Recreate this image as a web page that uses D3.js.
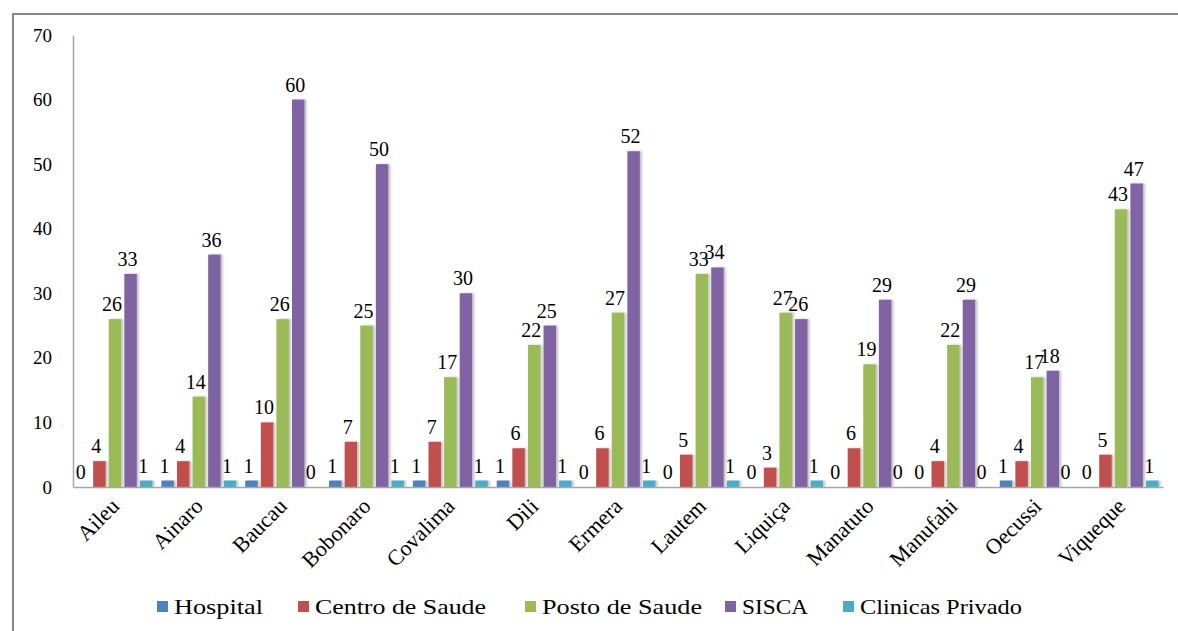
<!DOCTYPE html>
<html>
<head>
<meta charset="utf-8">
<script src="https://cdn.jsdelivr.net/npm/d3@7"></script>
<style>
  body { margin: 0; background: #fff; }
  svg { display: block; }
</style>
</head>
<body>
<svg id="chart"></svg>
<script>
var districts = ["Aileu","Ainaro","Baucau","Bobonaro","Covalima","Dili","Ermera","Lautem","Liquiça","Manatuto","Manufahi","Oecussi","Viqueque"];
var seriesNames = ["Hospital","Centro de Saude","Posto de Saude","SISCA","Clinicas Privado"];
var hospital  = [0,1,1,1,1,1,0,0,0,0,0,1,0];
var centro    = [4,4,10,7,7,6,6,5,3,6,4,4,5];
var posto     = [26,14,26,25,17,22,27,33,27,19,22,17,43];
var sisca     = [33,36,60,50,30,25,52,34,26,29,29,18,47];
var clinicas  = [1,1,0,1,1,1,1,1,1,0,0,0,1];
var yTicks = [0,10,20,30,40,50,60,70];
var colors = ["#4F81BD","#C0504D","#9BBB59","#8064A2","#4BACC6"];

var serif = "Liberation Serif";
var W = 1178, H = 631;
var svg = d3.select("#chart").attr("width", W).attr("height", H);

var defs = svg.append("defs");
var f = defs.append("filter").attr("id","shadow").attr("x","-20%").attr("y","-5%").attr("width","160%").attr("height","110%");
f.append("feDropShadow").attr("dx",2).attr("dy",0).attr("stdDeviation",1.2)
  .attr("flood-color","#000").attr("flood-opacity",0.25);

// outer border
svg.append("rect").attr("x",13).attr("y",14).attr("width",W).attr("height",H)
  .attr("fill","none").attr("stroke","#878787").attr("stroke-width",2);

var mLeft = 73, mRight = 1163, mTop = 35, mBottom = 487;

var x0 = d3.scaleBand().domain(districts).range([mLeft, mRight]).paddingInner(0.107).paddingOuter(0.054);
var x1 = d3.scaleBand().domain(seriesNames).range([0, x0.bandwidth()]).paddingInner(0.2);
var y = d3.scaleLinear().domain([0,70]).range([mBottom, mTop]);

var data = districts.map(function(d, i){
  return { name: d, values: [hospital[i], centro[i], posto[i], sisca[i], clinicas[i]] };
});

// y axis
var yAxis = svg.append("g").attr("transform","translate("+mLeft+",0)")
  .call(d3.axisLeft(y).tickValues(yTicks).tickSize(0).tickPadding(21));
yAxis.attr("font-family", serif);
yAxis.select(".domain").attr("stroke","#a6a6a6").attr("stroke-width",1.5);
yAxis.selectAll("text").attr("font-family", serif).attr("font-size",19).attr("fill","#000");

var groups = svg.selectAll(".grp").data(data).enter().append("g")
  .attr("transform", function(d){ return "translate("+x0(d.name)+",0)"; });

function items(d){
  return d.values.map(function(v, k){ return {s: seriesNames[k], v: v, k: k}; });
}

groups.selectAll("rect").data(function(d){ return items(d).filter(function(e){ return e.v > 0; }); })
  .enter().append("rect")
  .attr("x", function(d){ return x1(d.s); })
  .attr("y", function(d){ return y(d.v); })
  .attr("width", x1.bandwidth())
  .attr("height", function(d){ return y(0) - y(d.v); })
  .attr("fill", function(d){ return colors[d.k]; })
  .attr("filter","url(#shadow)");

groups.selectAll("text").data(items).enter().append("text")
  .attr("x", function(d){ return x1(d.s) + x1.bandwidth()/2 - 3; })
  .attr("y", function(d){ return y(d.v) - 8; })
  .attr("text-anchor","middle")
  .attr("font-family", serif)
  .attr("font-size",20)
  .attr("fill","#000")
  .text(function(d){ return d.v; });

// x axis
var xAxis = svg.append("g").attr("transform","translate(0,"+mBottom+")")
  .call(d3.axisBottom(x0).tickSize(0).tickSizeOuter(0));
xAxis.attr("font-family", serif);
xAxis.select(".domain").attr("stroke","#a6a6a6").attr("stroke-width",1.5);
xAxis.selectAll("text")
  .attr("font-family", serif)
  .attr("font-size",22).attr("fill","#000")
  .attr("text-anchor","end")
  .attr("transform","translate(-2,13) rotate(-45)")
  .attr("dy","0.35em").attr("dx","0");

// legend
var legX = [157, 298, 525, 725, 843];
var legW = [89, 171, 160, 66, 162];
var leg = svg.selectAll(".leg").data(seriesNames).enter().append("g")
  .attr("transform", function(d, i){ return "translate("+legX[i]+",607)"; });
leg.append("rect").attr("x",0).attr("y",-6).attr("width",11).attr("height",11)
  .attr("fill", function(d, i){ return colors[i]; });
leg.append("text").attr("x",17).attr("y",7)
  .attr("font-family", serif).attr("font-size",21)
  .attr("textLength", function(d, i){ return legW[i]; })
  .attr("lengthAdjust","spacingAndGlyphs")
  .attr("fill","#000").text(function(d){ return d; });
</script>
</body>
</html>
